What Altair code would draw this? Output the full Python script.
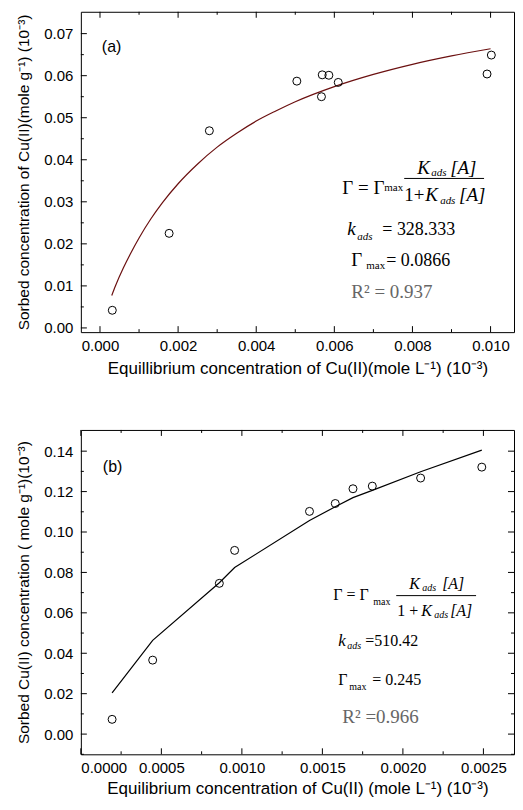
import altair as alt
import pandas as pd

# ---------------- data ----------------
# panel (a)
a_x = [0.000315, 0.00177, 0.0028, 0.00504, 0.00569, 0.00586, 0.00567, 0.0061, 0.00991, 0.01002]
a_y = [0.0042, 0.0225, 0.0469, 0.0587, 0.0602, 0.0601, 0.0550, 0.0584, 0.0604, 0.0649]
a_fit_x = [0.0003, 0.0004, 0.0006, 0.0008, 0.001, 0.0013, 0.0016, 0.002, 0.0025, 0.003,
           0.0035, 0.004, 0.0045, 0.005, 0.006, 0.007, 0.008, 0.009, 0.010]
a_fit_y = [0.0077, 0.0101, 0.0143, 0.0180, 0.0214, 0.0259, 0.0298, 0.0343, 0.0390, 0.0430,
           0.0463, 0.0492, 0.0516, 0.0538, 0.0574, 0.0603, 0.0627, 0.0647, 0.0664]
# panel (b)
b_x = [0.000194, 0.000446, 0.00086, 0.000955, 0.00142, 0.00158, 0.00169, 0.00181, 0.00211, 0.00249]
b_y = [0.0073, 0.0366, 0.0746, 0.0909, 0.1102, 0.1141, 0.1214, 0.1227, 0.1267, 0.1321]
b_fit_y = [0.0204, 0.0464, 0.0749, 0.0824, 0.1057, 0.1125, 0.1170, 0.1206, 0.1298, 0.1405]

# tick values
a_x_major = [0.0, 0.002, 0.004, 0.006, 0.008, 0.010]
a_x_minor = [0.001, 0.003, 0.005, 0.007, 0.009]
a_y_major = [0.00, 0.01, 0.02, 0.03, 0.04, 0.05, 0.06, 0.07]
a_y_minor = [0.005, 0.015, 0.025, 0.035, 0.045, 0.055, 0.065]
b_x_major = [0.0, 0.0005, 0.0010, 0.0015, 0.0020, 0.0025]
b_x_minor = [0.00025, 0.00075, 0.00125, 0.00175, 0.00225]
b_y_major = [0.00, 0.02, 0.04, 0.06, 0.08, 0.10, 0.12, 0.14]
b_y_minor = [-0.01, 0.01, 0.03, 0.05, 0.07, 0.09, 0.11, 0.13]

SANS = "Liberation Sans"
SERIF = "Liberation Serif"
W = 434
one = pd.DataFrame({"k": [0]})


def txt(s, x, y, size, italic=False, color="black", font=SERIF):
    return alt.Chart(one).mark_text(
        text=s, align="left", baseline="alphabetic", fontSize=size,
        fontStyle="italic" if italic else "normal", font=font, color=color
    ).encode(x=alt.value(x), y=alt.value(y))


def hline(x1, x2, y):
    return alt.Chart(one).mark_rule(color="black", strokeWidth=1).encode(
        x=alt.value(x1), x2=alt.value(x2), y=alt.value(y))


def panel(px, py, fx, fy, xdom, ydom, xmaj, xmin, ymaj, ymin, xfmt, xtitle, ytitle,
          lcolor, interp, H, right_ticks, annots, x_tpad):
    xs = alt.Scale(domain=xdom, nice=False, zero=False)
    ys = alt.Scale(domain=ydom, nice=False, zero=False)
    xax = alt.Axis(values=xmaj, format=xfmt, title=xtitle, ticks=False, domain=False,
                   grid=False, labelPadding=6, titlePadding=x_tpad, titleFontSize=17)
    yax = alt.Axis(values=ymaj, format=".2f", title=ytitle, ticks=False, domain=False,
                   grid=False, labelPadding=8, titlePadding=12, titleFontSize=15.5)

    def X(f="x"):
        return alt.X(f + ":Q", scale=xs, axis=xax, title=xtitle)

    def Y(f="y"):
        return alt.Y(f + ":Q", scale=ys, axis=yax, title=ytitle)

    pts = pd.DataFrame({"x": px, "y": py})
    fit = pd.DataFrame({"x": fx, "y": fy})
    points = alt.Chart(pts).mark_point(
        shape="circle", filled=False, size=64, color="black", strokeWidth=1, opacity=1
    ).encode(x=X(), y=Y())
    line = alt.Chart(fit).mark_line(color=lcolor, strokeWidth=1.2, interpolate=interp).encode(
        x=X(), y=Y())
    layers = [line, points]
    for vals, ln in ((xmaj, 6), (xmin, 3)):
        d = pd.DataFrame({"x": vals})
        layers.append(alt.Chart(d).mark_rule(color="black").encode(
            x=X(), y=alt.value(H), y2=alt.value(H - ln)))
        layers.append(alt.Chart(d).mark_rule(color="black").encode(
            x=X(), y=alt.value(0), y2=alt.value(ln)))
    for vals, ln in ((ymaj, 6), (ymin, 3)):
        d = pd.DataFrame({"y": vals})
        layers.append(alt.Chart(d).mark_rule(color="black").encode(
            y=Y(), x=alt.value(0), x2=alt.value(ln)))
        if right_ticks:
            layers.append(alt.Chart(d).mark_rule(color="black").encode(
                y=Y(), x=alt.value(W), x2=alt.value(W - ln)))
    layers += annots
    return alt.layer(*layers).properties(width=W, height=H)


annot_a = [
    txt("(a)", 21, 40, 16, font=SANS),
    txt("Γ = Γ", 262, 183, 19),
    txt("max", 304, 180, 11),
    txt("K", 337, 163, 19, italic=True),
    txt("ads", 351, 165, 11, italic=True),
    txt("[A]", 370, 163, 19, italic=True),
    hline(324, 404, 167),
    txt("1+", 324, 190, 19),
    txt("K", 345, 190, 19, italic=True),
    txt("ads", 360, 193, 11, italic=True),
    txt("[A]", 379, 190, 19, italic=True),
    txt("k", 267, 224, 19, italic=True),
    txt("ads", 277, 229, 11, italic=True),
    txt("= 328.333", 302, 224, 18),
    txt("Γ", 271, 255, 19),
    txt("max", 286, 258, 11),
    txt("= 0.0866", 306, 255, 18),
    txt("R² = 0.937", 271, 287, 19, color="#666666"),
]

annot_b = [
    txt("(b)", 22, 42, 16, font=SANS),
    txt("Γ = Γ", 253, 170, 16),
    txt("max", 293, 175, 10),
    txt("K", 329, 159, 16, italic=True),
    txt("ads", 342, 161, 10, italic=True),
    txt("[A]", 362, 159, 16, italic=True),
    hline(316, 396, 166),
    txt("1 +", 317, 186, 16),
    txt("K", 341, 186, 16, italic=True),
    txt("ads", 354, 188, 10, italic=True),
    txt("[A]", 370, 186, 16, italic=True),
    txt("k", 258, 216, 17, italic=True),
    txt("ads", 267, 219, 10, italic=True),
    txt("=510.42", 285, 216, 16),
    txt("Γ", 258, 256, 16),
    txt("max", 269, 261, 10),
    txt("= 0.245", 292, 256, 16),
    txt("R² =0.966", 262, 294, 19, color="#666666"),
]

top = panel(a_x, a_y, a_fit_x, a_fit_y, [-0.00049, 0.0106], [-0.001, 0.0752],
            a_x_major, a_x_minor, a_y_major, a_y_minor, ".3f",
            "Equillibrium concentration of Cu(II)(mole L⁻¹) (10⁻³)",
            "Sorbed concentration of Cu(II)(mole g⁻¹) (10⁻³)",
            "#6b1010", "monotone", 321, False, annot_a, 7)

bottom = panel(b_x, b_y, b_x, b_fit_y, [0.0, 0.00269], [-0.01, 0.1505],
               b_x_major, b_x_minor, b_y_major, b_y_minor, ".4f",
               "Equilibrium concentration of Cu(II) (mole L⁻¹) (10⁻³)",
               "Sorbed Cu(II) concentration ( mole g⁻¹)(10⁻³)",
               "black", "linear", 325, True, annot_b, 5)

chart = alt.vconcat(top, bottom, spacing=52).properties(
    padding={"left": 8, "top": 2, "right": 0, "bottom": 0}
).configure_view(
    stroke="black", strokeWidth=1
).configure_axis(
    labelFont=SANS, labelFontSize=15, labelColor="black",
    titleFont=SANS, titleColor="black", titleFontWeight="normal"
)

chart.save("out.html", embed_options={"renderer": "svg", "actions": False})
